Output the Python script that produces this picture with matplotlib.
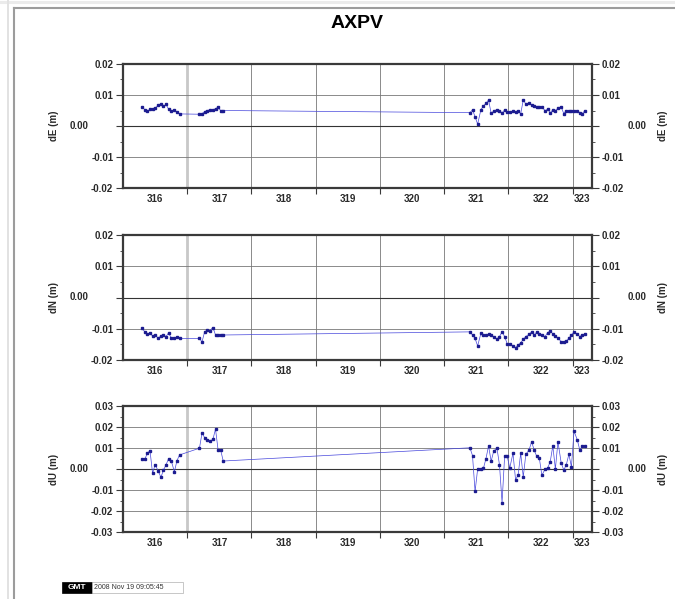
import matplotlib
matplotlib.use("Agg")
import matplotlib.pyplot as plt
from matplotlib.lines import Line2D
from matplotlib.patches import Rectangle
from matplotlib.ticker import FuncFormatter

plt.rcParams["font.family"] = ["Liberation Sans", "DejaVu Sans"]

station = "AXPV"
stamp = "2008 Nov 19 09:05:45"

# hourly solution epochs (day of year)
doy = [
    316.30, 316.34, 316.38, 316.42, 316.46, 316.50, 316.55, 316.59, 316.63, 316.67,
    316.71, 316.75, 316.80, 316.84, 316.88,
    317.19, 317.23, 317.27, 317.31, 317.35, 317.40, 317.44, 317.48, 317.52, 317.56,
    321.40, 321.44, 321.48, 321.52, 321.57, 321.61, 321.65, 321.69, 321.73, 321.77,
    321.82, 321.86, 321.90, 321.94, 321.98, 322.02, 322.07, 322.11, 322.15, 322.19,
    322.23, 322.27, 322.32, 322.36, 322.40, 322.44, 322.48, 322.52, 322.57, 322.61,
    322.65, 322.69, 322.73, 322.77, 322.82, 322.86, 322.90, 322.94, 322.98, 323.02,
    323.07, 323.11, 323.15, 323.19,
]

de = [
    0.0062, 0.0052, 0.0048, 0.0054, 0.0056, 0.0058, 0.0067, 0.0071, 0.0063, 0.0070,
    0.0054, 0.0047, 0.0052, 0.0045, 0.0039,
    0.0038, 0.0040, 0.0046, 0.0050, 0.0052, 0.0052, 0.0056, 0.0060, 0.0050, 0.0050,
    0.0043, 0.0052, 0.0030, 0.0006, 0.0052, 0.0065, 0.0073, 0.0084, 0.0041, 0.0048,
    0.0053, 0.0050, 0.0042, 0.0052, 0.0046, 0.0044, 0.0048, 0.0045, 0.0049, 0.0039,
    0.0084, 0.0071, 0.0073, 0.0067, 0.0065, 0.0060, 0.0062, 0.0060, 0.0050, 0.0054,
    0.0043, 0.0052, 0.0050, 0.0057, 0.0062, 0.0040, 0.0050, 0.0049, 0.0050, 0.0050,
    0.0050, 0.0043, 0.0040, 0.0050,
]

dn = [
    -0.0099, -0.0110, -0.0118, -0.0112, -0.0124, -0.0121, -0.0130, -0.0123, -0.0120, -0.0125,
    -0.0113, -0.0130, -0.0130, -0.0127, -0.0131,
    -0.0131, -0.0142, -0.0110, -0.0105, -0.0106, -0.0096, -0.0120, -0.0120, -0.0121, -0.0120,
    -0.0110, -0.0120, -0.0131, -0.0155, -0.0115, -0.0120, -0.0120, -0.0118, -0.0120, -0.0125,
    -0.0133, -0.0125, -0.0110, -0.0125, -0.0148, -0.0148, -0.0155, -0.0160, -0.0152, -0.0145,
    -0.0134, -0.0125, -0.0118, -0.0110, -0.0120, -0.0110, -0.0116, -0.0120, -0.0125, -0.0112,
    -0.0108, -0.0116, -0.0122, -0.0130, -0.0141, -0.0141, -0.0140, -0.0130, -0.0120, -0.0110,
    -0.0117, -0.0125, -0.0120, -0.0118,
]

du = [
    0.0048, 0.0048, 0.0075, 0.0088, -0.0020, 0.0020, -0.0010, -0.0040, -0.0005, 0.0020,
    0.0050, 0.0040, -0.0013, 0.0040, 0.0067,
    0.0099, 0.0171, 0.0150, 0.0138, 0.0131, 0.0142, 0.0190, 0.0091, 0.0090, 0.0038,
    0.0101, 0.0064, -0.0107, 0.0000, 0.0000, 0.0003, 0.0050, 0.0110, 0.0037, 0.0085,
    0.0100, 0.0020, -0.0160, 0.0060, 0.0060, 0.0005, 0.0075, -0.0050, -0.0030, 0.0075,
    -0.0038, 0.0070, 0.0090, 0.0130, 0.0090, 0.0060, 0.0052, -0.0030, 0.0000, 0.0005,
    0.0035, 0.0110, 0.0000, 0.0130, 0.0030, -0.0005, 0.0020, 0.0070, 0.0010, 0.0180,
    0.0140, 0.0090, 0.0110, 0.0110,
]

components = ["dE (m)", "dN (m)", "dU (m)"]
series = [de, dn, du]
limits = [0.02, 0.02, 0.03]
days = [316, 317, 318, 319, 320, 321, 322, 323]
day_labels = ["316", "317", "318", "319", "320", "321", "322", "323"]

W, H = 675, 599
x_min, x_max = 316.0, 323.3
frame_col = "#3a3a3a"
tick_style = dict(size=7, weight="bold", color="#2a2a2a")

fig = plt.figure(figsize=(W / 100, H / 100), dpi=100)

# page border lines
fig.add_artist(Line2D([0, 1], [1 - 1.5 / H] * 2, color="#ebebeb", lw=2.2))
fig.add_artist(Line2D([8 / W] * 2, [0, 1], color="#e2e2e2", lw=1.4))
fig.add_artist(Line2D([13.5 / W] * 2, [0, 1 - 7.5 / H], color="#9c9c9c", lw=1.5))
fig.add_artist(Line2D([13.5 / W, 1], [1 - 7.5 / H] * 2, color="#9c9c9c", lw=1.5))

boxes = [(64, 188), (235, 360), (406, 532)]

for (top, bottom), label, vals, lim in zip(boxes, components, series, limits):
    ax = fig.add_axes([123 / W, 1 - bottom / H, 469 / W, (bottom - top) / H])
    ax.set_xlim(x_min, x_max)
    ax.set_ylim(-lim, lim)

    yt = [k / 100 for k in range(-int(lim * 100), int(lim * 100) + 1)]
    ym = [k / 200 for k in range(-int(lim * 200), int(lim * 200) + 1)]

    # grid
    for d in days[1:]:
        if d == 317:
            ax.axvline(d, color="#c8c8c8", lw=2.0, zorder=1)
        else:
            ax.axvline(d, color="#777777", lw=0.6, zorder=1)
    for v in yt:
        if v == 0:
            ax.axhline(v, color="#333333", lw=0.8, zorder=1)
        else:
            ax.axhline(v, color="#777777", lw=0.6, zorder=1)

    ax.plot(doy, vals, "-", color="#4646dc", lw=0.5, zorder=3)
    ax.plot(doy, vals, "s", ms=1.5, color="#1c1c90", zorder=4)

    # x axis: ticks on day boundaries, labels centred in each day
    ax.set_xticks(days[1:])
    ax.set_xticklabels([])
    centers = [(d + min(d + 1, x_max)) / 2 for d in days]
    ax.set_xticks(centers, minor=True)
    ax.set_xticklabels(day_labels, minor=True, fontdict=tick_style)
    ax.tick_params(axis="x", which="major", direction="out", length=4, width=0.8,
                   color=frame_col)
    ax.tick_params(axis="x", which="minor", length=0, pad=4)

    # y axis on both sides, 0.00 set further out
    ax.set_yticks(yt)
    ax.set_yticks(ym, minor=True)
    ax.yaxis.set_major_formatter(FuncFormatter(lambda v, p: "" if abs(v) < 1e-9 else "%.2f" % v))
    ax.tick_params(axis="y", which="both", direction="out", left=True, right=True,
                   labelleft=True, labelright=True, color=frame_col)
    ax.tick_params(axis="y", which="major", length=5, width=0.8, pad=2)
    ax.tick_params(axis="y", which="minor", length=2.5, width=0.6)
    for t in ax.get_yticklabels():
        t.set_fontsize(7)
        t.set_fontweight("bold")
        t.set_color("#2a2a2a")

    ax.annotate("0.00", xy=(0, 0), xycoords=("axes fraction", "data"),
                xytext=(-25, 0), textcoords="offset points",
                ha="right", va="center", **tick_style)
    ax.annotate("0.00", xy=(1, 0), xycoords=("axes fraction", "data"),
                xytext=(26, 0), textcoords="offset points",
                ha="left", va="center", **tick_style)
    for side, off in ((0, -50), (1, 51)):
        ax.annotate(label, xy=(side, 0.5), xycoords="axes fraction",
                    xytext=(off, 0), textcoords="offset points", rotation=90,
                    ha="center", va="center", size=7, weight="bold", color="#2a2a2a")

    for s in ax.spines.values():
        s.set_linewidth(1.6)
        s.set_color(frame_col)

fig.text(357 / W, 1 - 23 / H, station, ha="center", va="center",
         fontsize=14, fontweight="bold")

# GMT time stamp
fig.add_artist(Rectangle((62 / W, 1 - 593 / H), 30 / W, 11 / H,
                         transform=fig.transFigure, fc="black", ec="black", lw=0.5))
fig.text(77 / W, 1 - 587.5 / H, "GMT", ha="center", va="center",
         fontsize=6, fontweight="bold", color="white")
fig.add_artist(Rectangle((92 / W, 1 - 593 / H), 91 / W, 11 / H,
                         transform=fig.transFigure, fc="white", ec="#b0b0b0", lw=0.5))
fig.text(94 / W, 1 - 587.5 / H, stamp, ha="left", va="center",
         fontsize=5, color="#333333")

fig.savefig("out.png", dpi=100)
